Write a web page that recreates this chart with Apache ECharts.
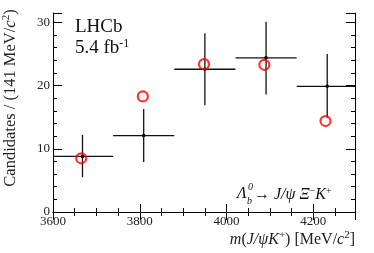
<!DOCTYPE html>
<html><head><meta charset="utf-8">
<script src="https://cdn.jsdelivr.net/npm/echarts@6/dist/echarts.min.js"></script>
<style>html,body{margin:0;padding:0;background:#fff}#c{width:374px;height:253px}</style>
</head><body><div id="c"></div>
<script>
// Data (bin centres in MeV/c^2, width 141)
const binCenters = [3668, 3809, 3950, 4091, 4232];
const binHalfWidth = 70.5;
const dataValues = [8.8, 12.1, 22.6, 24.4, 19.9];
const errUp = [3.4, 4.2, 5.7, 5.7, 5.1];
const errDown = [3.3, 4.2, 5.7, 5.8, 5.0];
const modelX = [3665, 3807, 3948, 4087, 4228];
const modelValues = [8.5, 18.3, 23.4, 23.3, 14.4];
const xTicks = [3600, 3800, 4000, 4200];
const yTicks = [0, 10, 20, 30];

const serif = '"Liberation Serif","DejaVu Serif",serif';
const chart = echarts.init(document.getElementById('c'), null, {renderer: 'canvas'});

const errData = binCenters.map((x, i) => [x, dataValues[i], dataValues[i] + errUp[i], dataValues[i] - errDown[i]]);

const axisCommon = {
  axisLine: {show: true, lineStyle: {color: '#000', width: 1}},
  splitLine: {show: false},
};

chart.setOption({
  animation: false,
  grid: {left: 53, right: 19, top: 13, bottom: 41, show: false},
  xAxis: [
    Object.assign({}, axisCommon, {
      type: 'value', min: 3600, max: 4296, interval: 200, position: 'bottom',
      axisTick: {show: true, inside: true, length: 8, lineStyle: {color: '#000'}},
      minorTick: {show: true, splitNumber: 4, length: 4, lineStyle: {color: '#000'}},
      axisLabel: {show: true, margin: 3, color: '#222', fontFamily: serif, fontSize: 13,
        formatter: v => xTicks.includes(v) ? String(v) : ''}
    }),
    Object.assign({}, axisCommon, {
      type: 'value', min: 3600, max: 4296, interval: 200, position: 'top',
      axisTick: {show: true, inside: true, length: 8, lineStyle: {color: '#000'}},
      minorTick: {show: true, splitNumber: 4, length: 4, lineStyle: {color: '#000'}},
      axisLabel: {show: false}
    })
  ],
  yAxis: [
    Object.assign({}, axisCommon, {
      type: 'value', min: 0, max: 31.5, interval: 10, position: 'left',
      axisTick: {show: true, inside: true, length: 9, lineStyle: {color: '#000'}},
      minorTick: {show: true, splitNumber: 5, length: 4, lineStyle: {color: '#000'}},
      axisLabel: {show: true, margin: 3, color: '#222', fontFamily: serif, fontSize: 13,
        formatter: v => yTicks.includes(v) ? String(v) : ''}
    }),
    Object.assign({}, axisCommon, {
      type: 'value', min: 0, max: 31.5, interval: 10, position: 'right',
      axisTick: {show: true, inside: true, length: 9, lineStyle: {color: '#000'}},
      minorTick: {show: true, splitNumber: 5, length: 4, lineStyle: {color: '#000'}},
      axisLabel: {show: false}
    })
  ],
  series: [
    {
      type: 'custom',
      xAxisIndex: 0, yAxisIndex: 0,
      data: errData,
      clip: true,
      renderItem: function (params, api) {
        const x = api.value(0), y = api.value(1), hi = api.value(2), lo = api.value(3);
        const pL = api.coord([x - binHalfWidth, y]);
        const pR = api.coord([x + binHalfWidth, y]);
        const pT = api.coord([x, hi]);
        const pB = api.coord([x, lo]);
        const pC = api.coord([x, y]);
        const style = {stroke: '#111', lineWidth: 1.3};
        return {
          type: 'group',
          children: [
            {type: 'line', shape: {x1: pL[0], y1: pL[1], x2: pR[0], y2: pR[1]}, style: style},
            {type: 'line', shape: {x1: pT[0], y1: pT[1], x2: pB[0], y2: pB[1]}, style: style},
            {type: 'circle', shape: {cx: pC[0], cy: pC[1], r: 1.8}, style: {fill: '#000'}}
          ]
        };
      }
    },
    {
      type: 'scatter',
      xAxisIndex: 0, yAxisIndex: 0,
      data: modelX.map((x, i) => [x, modelValues[i]]),
      symbol: 'circle', symbolSize: 10,
      itemStyle: {color: 'rgba(0,0,0,0)', borderColor: '#ff0000', borderWidth: 2.2},
      z: 5
    }
  ],
  graphic: [
    {type: 'text', left: 75, top: 18, style: {text: 'LHCb', font: '19px ' + serif, fill: '#111'}},
    {type: 'text', left: 75, top: 38, style: {
      text: '{n|5.4 fb}{s|-1}', fill: '#111',
      rich: {n: {font: '19px ' + serif, fill: '#111'}, s: {font: '12px ' + serif, fill: '#111', padding: [0, 0, 8, 0]}}
    }},
    {type: 'text', x: 10.5, y: 98, rotation: Math.PI / 2, style: {
      text: '{n|Candidates / (141 MeV/}{i|c}{s|2}{n|)}', align: 'center', verticalAlign: 'middle',
      rich: {
        n: {font: '16.5px ' + serif, fill: '#222'},
        i: {font: 'italic 16.5px ' + serif, fill: '#222'},
        s: {font: '11px ' + serif, fill: '#222', padding: [0, 0, 8, 0]}
      }
    }},
    {type: 'text', right: 19, top: 230, style: {
      text: '{i|m}{n|(}{i|J/ψK}{s|+}{n|) [MeV/}{i|c}{s|2}{n|]}',
      rich: {
        n: {font: '16px ' + serif, fill: '#222'},
        i: {font: 'italic 16px ' + serif, fill: '#222'},
        s: {font: '11px ' + serif, fill: '#222', padding: [0, 0, 8, 0]}
      }
    }},
    {type: 'text', left: 237, top: 186, style: {text: 'Λ', font: 'italic 16px ' + serif, fill: '#111'}},
    {type: 'text', left: 248, top: 182, style: {text: '0', font: 'italic 10px ' + serif, fill: '#111'}},
    {type: 'text', left: 247, top: 196, style: {text: 'b', font: 'italic 10px ' + serif, fill: '#111'}},
    {type: 'text', left: 254, top: 186, style: {
      text: '{n|→ }{i|J/ψ Ξ}{s|−}{i|K}{s|+}',
      rich: {
        n: {font: '16px ' + serif, fill: '#111'},
        i: {font: 'italic 16px ' + serif, fill: '#111'},
        s: {font: '10px ' + serif, fill: '#111', padding: [0, 0, 8, 0]}
      }
    }}
  ]
});
</script>
</body></html>
